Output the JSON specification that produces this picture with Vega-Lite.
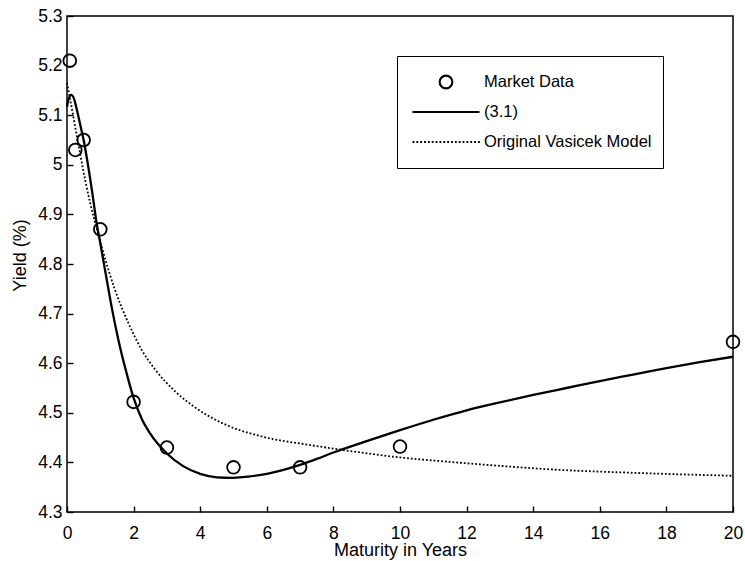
{
  "$schema": "https://vega.github.io/schema/vega-lite/v6.json",
  "width": 666,
  "height": 496,
  "autosize": {"type": "none"},
  "padding": {"left": 67, "top": 16, "right": 12, "bottom": 49},
  "background": "white",
  "datasets": {
    "market": [
      {"m": 0.083, "y": 5.21, "series": "Market Data"},
      {"m": 0.25, "y": 5.03, "series": "Market Data"},
      {"m": 0.5, "y": 5.05, "series": "Market Data"},
      {"m": 1, "y": 4.87, "series": "Market Data"},
      {"m": 2, "y": 4.522, "series": "Market Data"},
      {"m": 3, "y": 4.43, "series": "Market Data"},
      {"m": 5, "y": 4.39, "series": "Market Data"},
      {"m": 7, "y": 4.39, "series": "Market Data"},
      {"m": 10, "y": 4.432, "series": "Market Data"},
      {"m": 20, "y": 4.643, "series": "Market Data"}
    ],
    "model31": [
      {"m": 0, "y": 5.117}, {"m": 0.05, "y": 5.133}, {"m": 0.13, "y": 5.141},
      {"m": 0.2, "y": 5.135}, {"m": 0.3, "y": 5.11}, {"m": 0.4, "y": 5.08},
      {"m": 0.5, "y": 5.05}, {"m": 0.6, "y": 5.012}, {"m": 0.75, "y": 4.948},
      {"m": 0.9, "y": 4.878}, {"m": 1, "y": 4.842}, {"m": 1.2, "y": 4.766},
      {"m": 1.35, "y": 4.71}, {"m": 1.55, "y": 4.645}, {"m": 1.75, "y": 4.59},
      {"m": 2, "y": 4.53}, {"m": 2.25, "y": 4.487}, {"m": 2.5, "y": 4.458},
      {"m": 3, "y": 4.418}, {"m": 3.5, "y": 4.392}, {"m": 4, "y": 4.377},
      {"m": 4.5, "y": 4.37}, {"m": 5, "y": 4.369}, {"m": 5.5, "y": 4.372},
      {"m": 6, "y": 4.377}, {"m": 6.5, "y": 4.385}, {"m": 7, "y": 4.395},
      {"m": 7.5, "y": 4.407}, {"m": 8, "y": 4.42}, {"m": 9, "y": 4.443},
      {"m": 10, "y": 4.465}, {"m": 11, "y": 4.486}, {"m": 12, "y": 4.505},
      {"m": 13, "y": 4.521}, {"m": 14, "y": 4.536}, {"m": 15, "y": 4.55},
      {"m": 16, "y": 4.564}, {"m": 17, "y": 4.577}, {"m": 18, "y": 4.59},
      {"m": 19, "y": 4.602}, {"m": 20, "y": 4.613}
    ],
    "vasicek": [
      {"m": 0, "y": 5.165}, {"m": 0.1, "y": 5.13}, {"m": 0.25, "y": 5.075},
      {"m": 0.4, "y": 5.02}, {"m": 0.55, "y": 4.968}, {"m": 0.7, "y": 4.922},
      {"m": 0.85, "y": 4.882}, {"m": 1.05, "y": 4.833}, {"m": 1.25, "y": 4.787},
      {"m": 1.45, "y": 4.746}, {"m": 1.65, "y": 4.711}, {"m": 1.85, "y": 4.68},
      {"m": 2.25, "y": 4.626}, {"m": 2.65, "y": 4.587}, {"m": 3.25, "y": 4.543},
      {"m": 3.8, "y": 4.513}, {"m": 4.8, "y": 4.475}, {"m": 5.8, "y": 4.453},
      {"m": 7.3, "y": 4.435}, {"m": 8.5, "y": 4.423}, {"m": 10, "y": 4.41},
      {"m": 11.5, "y": 4.401}, {"m": 13, "y": 4.393}, {"m": 14.5, "y": 4.386},
      {"m": 17, "y": 4.379}, {"m": 20, "y": 4.373}
    ]
  },
  "layer": [
    {
      "data": {"name": "vasicek"},
      "mark": {"type": "line", "color": "black", "strokeWidth": 1.8, "strokeDash": [1.8, 2], "interpolate": "monotone"},
      "encoding": {
        "x": {"field": "m", "type": "quantitative", "scale": {"domain": [0, 20], "nice": false},
          "axis": {"orient": "bottom", "values": [0, 2, 4, 6, 8, 10, 12, 14, 16, 18, 20], "title": "Maturity in Years",
            "tickSize": -6, "tickColor": "black", "tickWidth": 1.4,
            "labelPadding": 18, "titlePadding": 0}},
        "y": {"field": "y", "type": "quantitative", "scale": {"domain": [4.3, 5.3], "nice": false, "zero": false},
          "axis": {"orient": "left", "values": [4.3, 4.4, 4.5, 4.6, 4.7, 4.8, 4.9, 5, 5.1, 5.2, 5.3], "format": ".2~f", "title": "Yield (%)",
            "tickSize": -6, "tickColor": "black", "tickWidth": 1.4,
            "labelPadding": 11, "titlePadding": 8, "titleY": 239}}
      }
    },
    {
      "data": {"name": "model31"},
      "mark": {"type": "line", "color": "black", "strokeWidth": 2.3, "interpolate": "monotone"},
      "encoding": {
        "x": {"field": "m", "type": "quantitative"},
        "y": {"field": "y", "type": "quantitative"}
      }
    },
    {
      "data": {"name": "market"},
      "mark": {"type": "point", "filled": false, "stroke": "black", "strokeWidth": 1.8, "size": 4489, "opacity": 1},
      "encoding": {
        "x": {"field": "m", "type": "quantitative"},
        "y": {"field": "y", "type": "quantitative"},
        "shape": {
          "field": "series", "type": "nominal",
          "scale": {
            "domain": ["Market Data", "(3.1)", "Original Vasicek Model"],
            "range": [
              "M-0.19,0A0.19,0.19,0,1,1,0.19,0A0.19,0.19,0,1,1,-0.19,0Z",
              "M-1,0L1,0",
              "M-1,0h0.055M-0.885,0h0.055M-0.77,0h0.055M-0.655,0h0.055M-0.54,0h0.055M-0.425,0h0.055M-0.31,0h0.055M-0.195,0h0.055M-0.08,0h0.055M0.035,0h0.055M0.15,0h0.055M0.265,0h0.055M0.38,0h0.055M0.495,0h0.055M0.61,0h0.055M0.725,0h0.055M0.84,0h0.055M0.955,0h0.055"
            ]
          },
          "legend": {
            "orient": "none", "legendX": 330, "legendY": 40, "title": null,
            "strokeColor": "black", "fillColor": "white", "padding": 11,
            "symbolSize": 4489, "symbolStrokeColor": "black", "symbolFillColor": "transparent",
            "symbolStrokeWidth": 2.1, "symbolOffset": 3, "labelOffset": 3, "labelLimit": 400,
            "labelFont": "Liberation Sans", "labelFontSize": 16.5, "labelColor": "black",
            "clipHeight": 30, "rowPadding": 0
          }
        }
      }
    }
  ],
  "config": {
    "font": "Liberation Sans",
    "view": {"stroke": "black", "strokeWidth": 1.5},
    "axis": {
      "grid": false, "domain": false, "ticks": true,
      "labelColor": "black", "labelFontSize": 17.5, "labelFlush": false, "labelOverlap": false,
      "titleColor": "black", "titleFontSize": 18, "titleFontWeight": "normal"
    }
  }
}
